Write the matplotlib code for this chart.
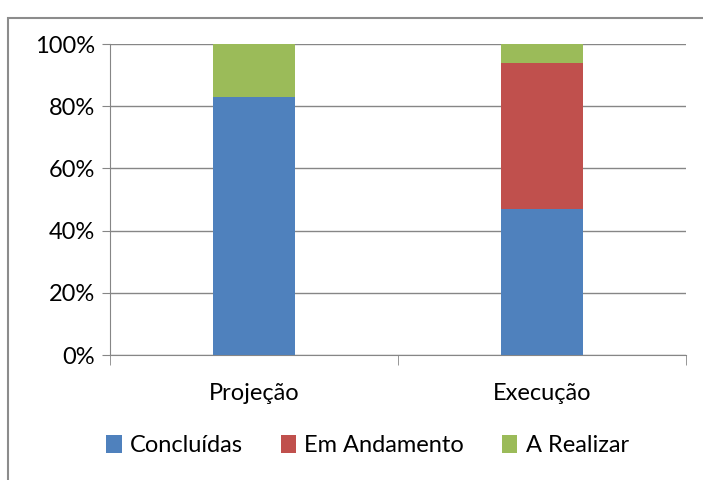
import matplotlib.pyplot as plt
from matplotlib.patches import Rectangle
from matplotlib.ticker import FixedLocator

# Data (percent)
categorias = ["Projeção", "Execução"]
concluidas = [83, 47]
em_andamento = [0, 47]
a_realizar = [17, 6]

cores = ["#4F81BD", "#C0504D", "#9BBB59"]
plt.rcParams["font.family"] = ["Lato", "DejaVu Sans"]

fig = plt.figure(figsize=(7.03, 4.8), dpi=100)
ax = fig.add_axes([0.1565, 0.2604, 0.8195, 0.6479])

# outer chart border
fig.patches.append(Rectangle((0.012, -0.01), 1.0, 0.973, transform=fig.transFigure,
                             fill=False, edgecolor="#8c8c8c", linewidth=1.5))

x = range(len(categorias))
w = 0.285
base2 = [c + e for c, e in zip(concluidas, em_andamento)]
ax.bar(x, concluidas, w, color=cores[0], label="Concluídas", zorder=3)
ax.bar(x, em_andamento, w, bottom=concluidas, color=cores[1], label="Em Andamento", zorder=3)
ax.bar(x, a_realizar, w, bottom=base2, color=cores[2], label="A Realizar", zorder=3)

ax.set_xlim(-0.5, 1.5)
ax.set_ylim(0, 100)
ax.set_yticks(range(0, 101, 20))
ax.set_yticklabels([f"{v}%" for v in range(0, 101, 20)], fontsize=17)
ax.set_xticks(list(x))
ax.set_xticklabels(categorias, fontsize=17)
ax.xaxis.set_minor_locator(FixedLocator([-0.5, 0.5, 1.5]))
ax.tick_params(axis="x", which="major", length=0, pad=20)
ax.tick_params(axis="x", which="minor", length=7, color="#868686", direction="out")
ax.tick_params(axis="y", length=6, color="#868686", pad=5)

ax.grid(axis="y", color="#868686", linewidth=1, zorder=0)
for s in ["top", "right"]:
    ax.spines[s].set_visible(False)
for s in ["left", "bottom"]:
    ax.spines[s].set_color("#868686")

ax.legend(loc="upper center", bbox_to_anchor=(0.447, -0.19), ncol=3, frameon=False,
          fontsize=17, handlelength=0.65, handleheight=0.75, handletextpad=0.35,
          columnspacing=1.6)

fig.savefig("out.png", dpi=100)
